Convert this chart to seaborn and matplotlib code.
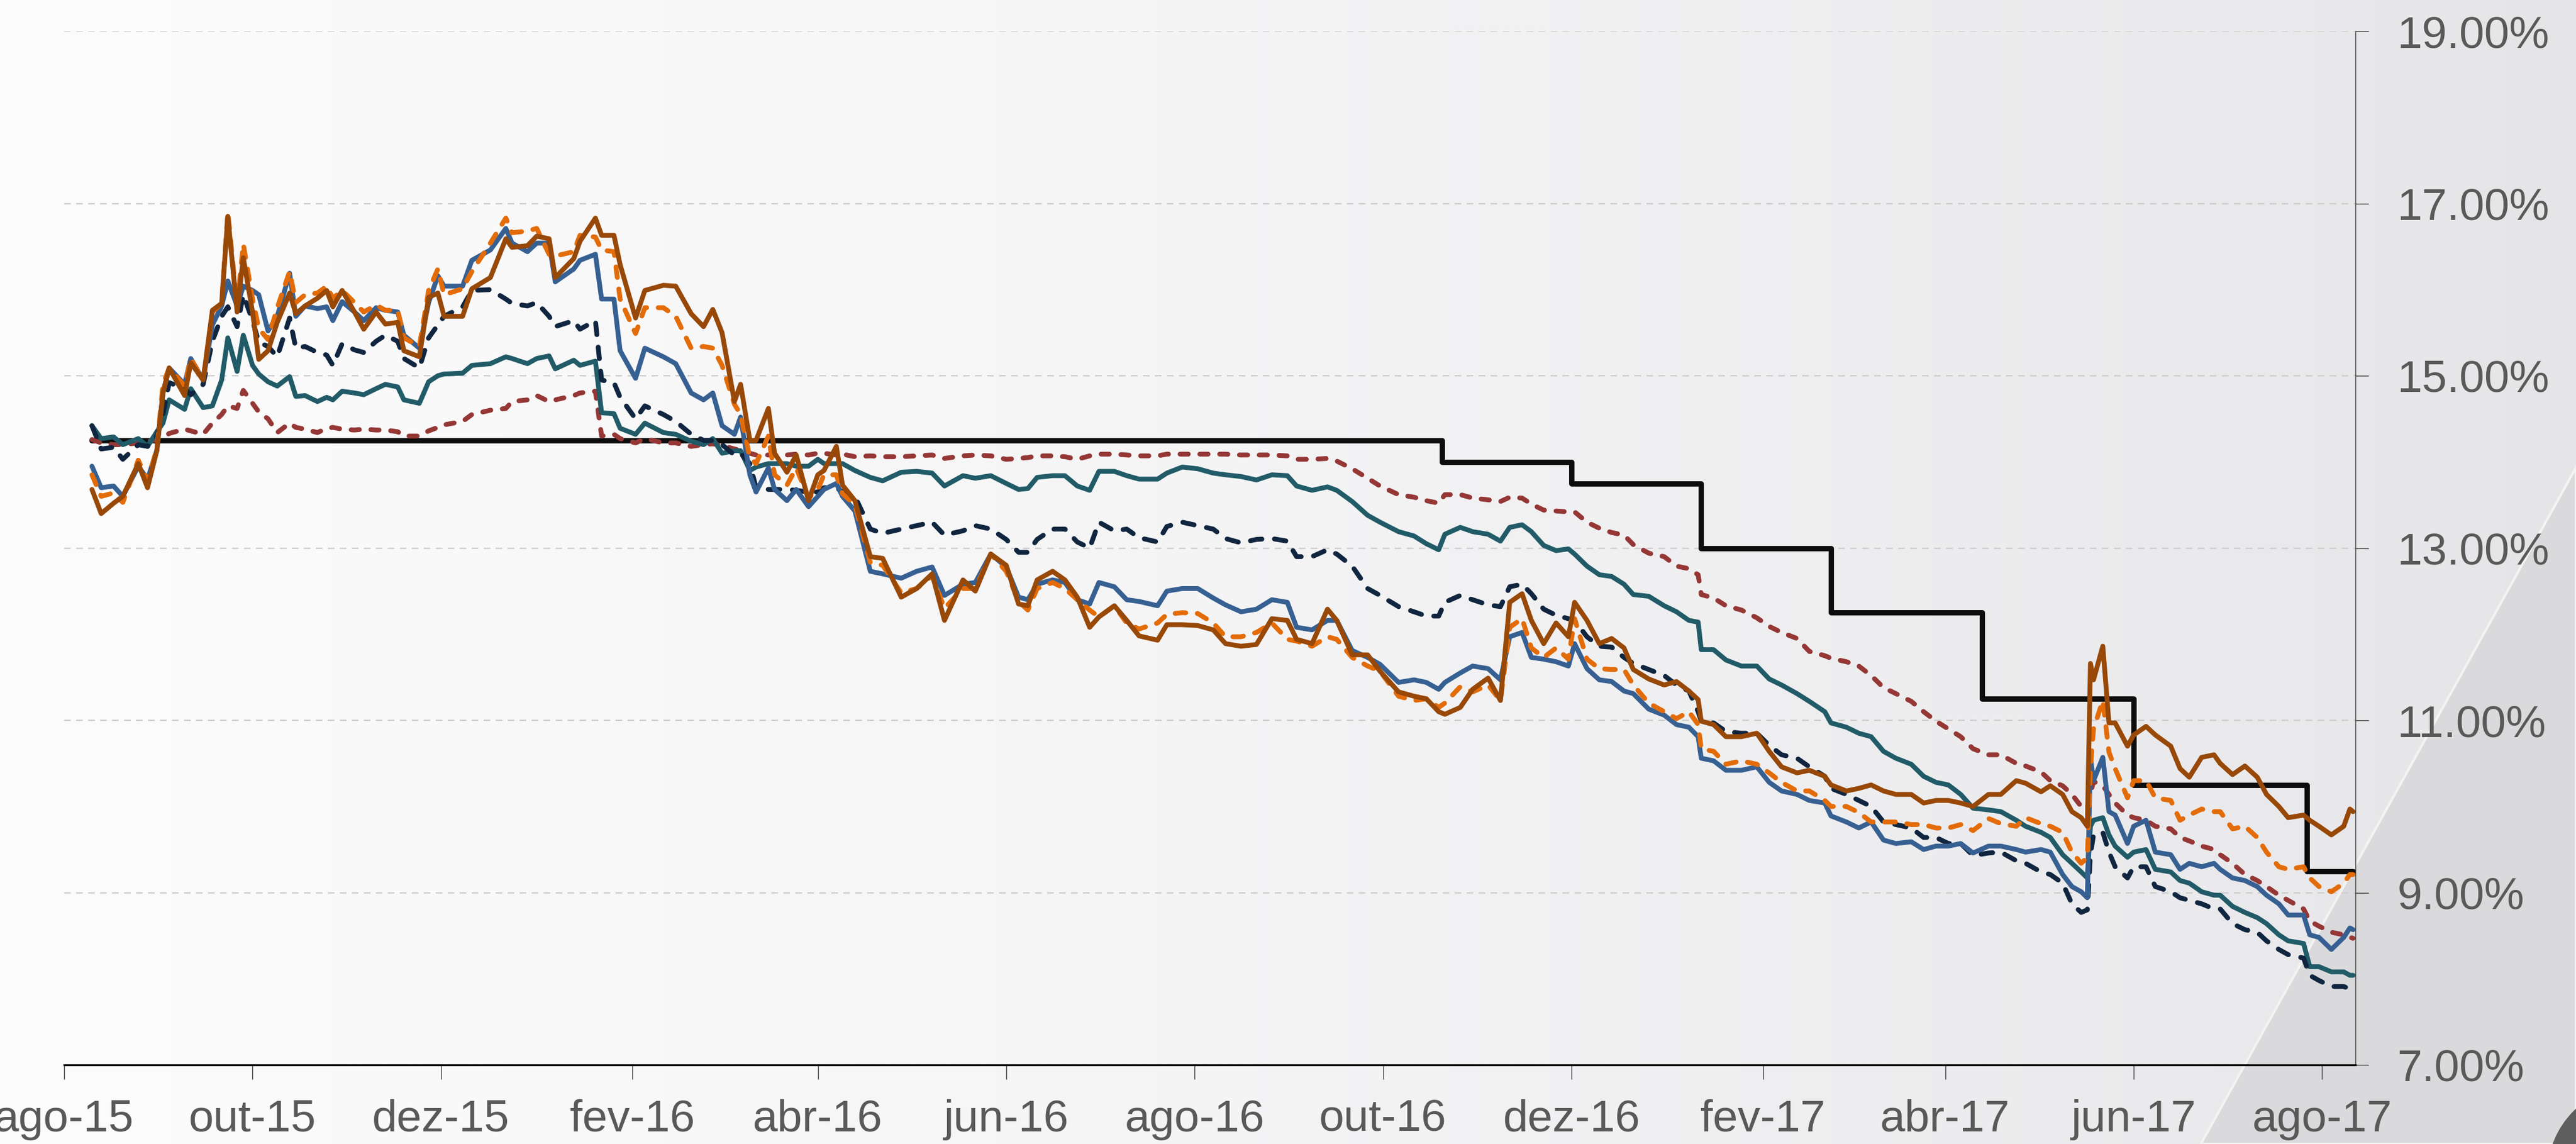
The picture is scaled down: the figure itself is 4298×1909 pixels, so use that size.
import numpy as np
import pandas as pd
import matplotlib
matplotlib.use("Agg")
import matplotlib.pyplot as plt
import matplotlib.dates as mdates
from matplotlib.ticker import FuncFormatter
from matplotlib.colors import LinearSegmentedColormap
from matplotlib.patches import Polygon, Circle
import seaborn as sns

# Datas das observações
datas = [
    # ago-dez 2015
    "2015-08-10", "2015-08-13", "2015-08-17", "2015-08-20", "2015-08-25", "2015-08-28", "2015-08-31",
    "2015-09-02", "2015-09-04", "2015-09-09", "2015-09-11", "2015-09-15", "2015-09-18", "2015-09-21",
    "2015-09-23", "2015-09-26", "2015-09-28", "2015-10-01", "2015-10-03", "2015-10-06", "2015-10-09",
    "2015-10-13", "2015-10-15", "2015-10-18", "2015-10-22", "2015-10-25", "2015-10-27", "2015-10-30",
    "2015-11-03", "2015-11-06", "2015-11-10", "2015-11-13", "2015-11-17", "2015-11-19", "2015-11-24",
    "2015-11-27", "2015-11-30", "2015-12-02", "2015-12-08",
    # dez 2015 - abr 2016
    "2015-12-11", "2015-12-17", "2015-12-22", "2015-12-24", "2015-12-29", "2016-01-01", "2016-01-05",
    "2016-01-07", "2016-01-13", "2016-01-15", "2016-01-20", "2016-01-22", "2016-01-26", "2016-01-28",
    "2016-02-02", "2016-02-05", "2016-02-11", "2016-02-15", "2016-02-20", "2016-02-24", "2016-02-27",
    "2016-03-01", "2016-03-05", "2016-03-07", "2016-03-10", "2016-03-12", "2016-03-16", "2016-03-18",
    "2016-03-22", "2016-03-25", "2016-03-29", "2016-04-01", "2016-04-03", "2016-04-07", "2016-04-09",
    "2016-04-13",
    # abr-jul 2016
    "2016-04-18", "2016-04-22", "2016-04-28", "2016-05-03", "2016-05-08", "2016-05-12", "2016-05-18",
    "2016-05-22", "2016-05-27", "2016-06-01", "2016-06-05", "2016-06-08", "2016-06-11", "2016-06-16",
    "2016-06-20", "2016-06-24", "2016-06-28", "2016-07-01", "2016-07-06", "2016-07-10", "2016-07-14",
    "2016-07-20", "2016-07-23", "2016-07-28",
    # ago-dez 2016
    "2016-08-02", "2016-08-07", "2016-08-11", "2016-08-16", "2016-08-21", "2016-08-26", "2016-08-31",
    "2016-09-03", "2016-09-08", "2016-09-13", "2016-09-16", "2016-09-21", "2016-09-26", "2016-09-30",
    "2016-10-06", "2016-10-11", "2016-10-15", "2016-10-19", "2016-10-21", "2016-10-26", "2016-10-30",
    "2016-11-04", "2016-11-08", "2016-11-11", "2016-11-15", "2016-11-18", "2016-11-22", "2016-11-26",
    "2016-11-30", "2016-12-02", "2016-12-06", "2016-12-10",
    # dez 2016 - abr 2017
    "2016-12-14", "2016-12-18", "2016-12-21", "2016-12-26", "2016-12-31", "2017-01-04", "2017-01-08",
    "2017-01-11", "2017-01-12", "2017-01-16", "2017-01-20", "2017-01-25", "2017-01-30", "2017-02-03",
    "2017-02-07", "2017-02-12", "2017-02-16", "2017-02-21", "2017-02-23", "2017-02-28", "2017-03-04",
    "2017-03-08", "2017-03-12", "2017-03-16", "2017-03-21", "2017-03-25", "2017-03-29", "2017-04-02",
    "2017-04-06", "2017-04-10", "2017-04-15",
    # abr-ago 2017
    "2017-04-19", "2017-04-24", "2017-04-27", "2017-05-02", "2017-05-05", "2017-05-09", "2017-05-12",
    "2017-05-15", "2017-05-17", "2017-05-18", "2017-05-19", "2017-05-22", "2017-05-24", "2017-05-26",
    "2017-05-30", "2017-06-01", "2017-06-05", "2017-06-08", "2017-06-13", "2017-06-16", "2017-06-19",
    "2017-06-23", "2017-06-27", "2017-06-29", "2017-07-03", "2017-07-07", "2017-07-11", "2017-07-14",
    "2017-07-18", "2017-07-21", "2017-07-26", "2017-07-28", "2017-07-31", "2017-08-04", "2017-08-08",
    "2017-08-10", "2017-08-11",
]

di_jan17 = [
    14.26, 14.22, 14.20, 14.20, 14.22, 14.24, 14.26, 14.28, 14.33, 14.38, 14.36, 14.32, 14.45, 14.55,
    14.65, 14.62, 14.83, 14.68, 14.58, 14.50, 14.34, 14.45, 14.40, 14.38, 14.34, 14.39, 14.40, 14.38,
    14.37, 14.38, 14.37, 14.37, 14.35, 14.30, 14.30, 14.36, 14.40, 14.43, 14.47,
    14.55, 14.60, 14.62, 14.70, 14.72, 14.77, 14.70, 14.72, 14.77, 14.80, 14.82, 14.30, 14.32, 14.27,
    14.22, 14.27, 14.22, 14.22, 14.18, 14.20, 14.21, 14.19, 14.15, 14.13, 14.10, 14.08, 14.08, 14.08,
    14.08, 14.09, 14.08, 14.10, 14.10, 14.08, 14.09, 14.06,
    14.07, 14.06, 14.06, 14.07, 14.08, 14.04, 14.07, 14.08, 14.07, 14.03, 14.04, 14.05, 14.07, 14.07,
    14.06, 14.03, 14.07, 14.09, 14.09, 14.08, 14.07, 14.07, 14.09, 14.09,
    14.09, 14.09, 14.09, 14.08, 14.08, 14.08, 14.07, 14.03, 14.03, 14.04, 14.01, 13.92, 13.81, 13.72,
    13.62, 13.59, 13.55, 13.52, 13.62, 13.62, 13.58, 13.56, 13.54, 13.59, 13.58, 13.51, 13.44, 13.43,
    13.42, 13.42, 13.30, 13.23,
    13.18, 13.15, 13.04, 12.94, 12.90, 12.79, 12.76, 12.69, 12.46, 12.42, 12.33, 12.28, 12.19, 12.09,
    12.02, 11.95, 11.80, 11.75, 11.72, 11.68, 11.63, 11.52, 11.38, 11.31, 11.22, 11.10, 10.99, 10.90,
    10.81, 10.67, 10.60,
    10.60, 10.50, 10.47, 10.40, 10.30, 10.24, 10.14, 10.00, 9.97, 10.15, 10.29, 10.24, 10.14, 10.04,
    9.90, 9.87, 9.84, 9.77, 9.74, 9.64, 9.60, 9.54, 9.50, 9.44, 9.34, 9.21, 9.14, 9.07,
    8.97, 8.91, 8.81, 8.67, 8.61, 8.54, 8.51, 8.48, 8.47,
]

di_jan18 = [
    14.42, 14.27, 14.29, 14.20, 14.27, 14.18, 14.35, 14.45, 14.72, 14.61, 14.85, 14.63, 14.65, 14.95,
    15.44, 15.05, 15.47, 15.12, 15.02, 14.93, 14.88, 14.99, 14.76, 14.77, 14.70, 14.75, 14.72, 14.82,
    14.80, 14.78, 14.85, 14.90, 14.87, 14.72, 14.68, 14.93, 15.00, 15.02, 15.03,
    15.12, 15.14, 15.22, 15.20, 15.14, 15.20, 15.23, 15.08, 15.18, 15.12, 15.17, 14.57, 14.56, 14.39,
    14.32, 14.45, 14.34, 14.32, 14.24, 14.20, 14.27, 14.10, 14.13, 14.13, 13.90, 13.94, 13.98, 13.98,
    13.98, 13.95, 13.95, 14.03, 13.98, 13.98, 13.98, 13.90,
    13.82, 13.78, 13.88, 13.89, 13.87, 13.72, 13.84, 13.81, 13.84, 13.75, 13.68, 13.69, 13.82, 13.84,
    13.84, 13.72, 13.67, 13.89, 13.89, 13.84, 13.80, 13.80, 13.87, 13.94,
    13.92, 13.87, 13.85, 13.83, 13.79, 13.85, 13.84, 13.72, 13.67, 13.71, 13.67, 13.54, 13.38, 13.30,
    13.19, 13.14, 13.05, 12.98, 13.16, 13.24, 13.19, 13.16, 13.08, 13.24, 13.27, 13.19, 13.03, 12.97,
    12.99, 12.93, 12.79, 12.69,
    12.67, 12.58, 12.46, 12.44, 12.33, 12.26, 12.16, 12.14, 11.82, 11.82, 11.70, 11.63, 11.63, 11.48,
    11.41, 11.31, 11.22, 11.10, 10.97, 10.92, 10.85, 10.81, 10.64, 10.56, 10.49, 10.35, 10.28, 10.25,
    10.14, 9.98, 9.96,
    9.94, 9.84, 9.77, 9.70, 9.64, 9.44, 9.34, 9.24, 9.17, 9.77, 9.84, 9.87, 9.67, 9.54,
    9.41, 9.47, 9.50, 9.27, 9.24, 9.14, 9.11, 9.01, 8.97, 8.97, 8.84, 8.77, 8.71, 8.64,
    8.51, 8.44, 8.41, 8.14, 8.14, 8.08, 8.08, 8.04, 8.04,
]

di_jan19 = [
    14.42, 14.15, 14.17, 14.03, 14.20, 14.18, 14.30, 14.55, 14.92, 14.85, 14.78, 14.90, 15.40, 15.69,
    15.80, 15.57, 15.94, 15.64, 15.39, 15.34, 15.22, 15.67, 15.32, 15.34, 15.27, 15.24, 15.12, 15.37,
    15.30, 15.27, 15.40, 15.47, 15.40, 15.20, 15.09, 15.44, 15.59, 15.69, 15.80,
    15.99, 16.00, 15.89, 15.84, 15.81, 15.85, 15.69, 15.57, 15.64, 15.54, 15.64, 14.95, 14.92, 14.75,
    14.50, 14.65, 14.55, 14.47, 14.32, 14.25, 14.25, 14.20, 14.08, 14.10, 13.98, 13.70, 13.68, 13.68,
    13.68, 13.67, 13.65, 13.65, 13.70, 13.70, 13.65, 13.60,
    13.22, 13.17, 13.22, 13.26, 13.30, 13.15, 13.20, 13.26, 13.22, 13.10, 12.95, 12.95, 13.10, 13.22,
    13.22, 13.07, 13.00, 13.30, 13.20, 13.22, 13.12, 13.07, 13.25, 13.30,
    13.26, 13.22, 13.11, 13.06, 13.10, 13.11, 13.08, 12.90, 12.90, 12.98, 12.93, 12.79, 12.53, 12.45,
    12.32, 12.26, 12.21, 12.21, 12.37, 12.45, 12.40, 12.34, 12.32, 12.55, 12.58, 12.47, 12.29, 12.22,
    12.18, 12.16, 11.97, 11.86,
    11.85, 11.73, 11.66, 11.59, 11.52, 11.41, 11.34, 11.10, 10.99, 10.97, 10.87, 10.85, 10.85, 10.71,
    10.60, 10.56, 10.46, 10.35, 10.21, 10.14, 10.07, 10.00, 9.82, 9.79, 9.75, 9.64, 9.64, 9.57,
    9.57, 9.43, 9.46,
    9.47, 9.37, 9.34, 9.24, 9.21, 9.11, 8.87, 8.77, 8.80, 9.44, 9.67, 9.70, 9.47, 9.30,
    9.17, 9.30, 9.30, 9.07, 9.01, 8.94, 8.91, 8.87, 8.81, 8.81, 8.64, 8.57, 8.54, 8.44,
    8.34, 8.28, 8.24, 8.04, 7.98, 7.91, 7.91, 7.88, 7.88,
]

di_jan21 = [
    13.95, 13.70, 13.72, 13.60, 13.95, 13.80, 14.13, 14.80, 15.09, 14.90, 15.20, 14.95, 15.59, 15.81,
    16.10, 15.81, 16.04, 15.99, 15.94, 15.52, 15.69, 16.19, 15.69, 15.81, 15.78, 15.80, 15.64, 15.86,
    15.74, 15.64, 15.79, 15.76, 15.74, 15.47, 15.32, 15.85, 16.16, 16.04, 16.04,
    16.34, 16.46, 16.71, 16.54, 16.44, 16.54, 16.54, 16.09, 16.24, 16.34, 16.41, 15.89, 15.89, 15.29,
    14.97, 15.32, 15.22, 15.14, 14.80, 14.72, 14.80, 14.42, 14.32, 14.52, 13.85, 13.65, 13.93, 13.68,
    13.55, 13.68, 13.48, 13.60, 13.68, 13.75, 13.60, 13.43,
    12.73, 12.70, 12.65, 12.73, 12.78, 12.45, 12.58, 12.60, 12.93, 12.78, 12.43, 12.40, 12.58, 12.63,
    12.60, 12.40, 12.35, 12.60, 12.55, 12.40, 12.38, 12.33, 12.50, 12.53,
    12.53, 12.42, 12.34, 12.26, 12.29, 12.40, 12.37, 12.08, 12.05, 12.16, 12.16, 11.81, 11.73, 11.65,
    11.44, 11.47, 11.44, 11.36, 11.44, 11.55, 11.63, 11.60, 11.47, 11.97, 12.02, 11.73, 11.71, 11.68,
    11.63, 11.89, 11.60, 11.47,
    11.45, 11.34, 11.31, 11.13, 11.06, 10.95, 10.92, 10.81, 10.56, 10.53, 10.42, 10.42, 10.46, 10.28,
    10.18, 10.14, 10.07, 10.04, 9.89, 9.82, 9.75, 9.82, 9.61, 9.57, 9.59, 9.50, 9.54, 9.54,
    9.57, 9.46, 9.54,
    9.54, 9.50, 9.47, 9.50, 9.47, 9.21, 9.07, 9.01, 8.94, 10.57, 10.30, 10.57, 9.94, 9.90,
    9.57, 9.77, 9.84, 9.47, 9.44, 9.27, 9.34, 9.30, 9.34, 9.27, 9.17, 9.14, 9.07, 8.97,
    8.87, 8.74, 8.74, 8.51, 8.48, 8.34, 8.48, 8.59, 8.57,
]

di_jan23 = [
    13.85, 13.60, 13.64, 13.53, 14.02, 13.78, 14.15, 14.90, 15.09, 14.88, 15.20, 14.95, 15.74, 15.84,
    16.90, 15.80, 16.53, 15.89, 15.55, 15.42, 15.79, 16.21, 15.85, 15.94, 15.96, 16.04, 15.90, 15.99,
    15.85, 15.74, 15.82, 15.76, 15.76, 15.44, 15.34, 15.99, 16.24, 15.94, 16.01,
    16.21, 16.54, 16.83, 16.66, 16.68, 16.71, 16.41, 16.39, 16.44, 16.63, 16.61, 16.46, 16.44, 15.89,
    15.49, 15.79, 15.79, 15.69, 15.32, 15.34, 15.32, 15.12, 14.67, 14.55, 14.05, 13.98, 14.30, 13.85,
    13.73, 13.93, 13.58, 13.68, 13.85, 13.85, 13.63, 13.50,
    12.83, 12.80, 12.48, 12.53, 12.68, 12.30, 12.53, 12.53, 12.93, 12.73, 12.38, 12.28, 12.53, 12.60,
    12.53, 12.40, 12.28, 12.20, 12.33, 12.13, 12.06, 12.13, 12.23, 12.25,
    12.24, 12.13, 11.97, 11.97, 12.02, 12.13, 11.94, 11.92, 11.86, 11.97, 11.94, 11.73, 11.63, 11.57,
    11.28, 11.23, 11.25, 11.15, 11.20, 11.39, 11.33, 11.41, 11.23, 12.08, 12.18, 11.84, 11.73, 11.84,
    11.71, 12.18, 11.71, 11.60,
    11.59, 11.59, 11.41, 11.20, 11.10, 11.02, 11.10, 10.95, 10.67, 10.64, 10.49, 10.53, 10.49, 10.39,
    10.28, 10.18, 10.18, 10.07, 10.00, 10.00, 9.93, 9.82, 9.82, 9.82, 9.79, 9.79, 9.75, 9.75,
    9.79, 9.72, 9.86,
    9.80, 9.77, 9.87, 9.80, 9.77, 9.70, 9.47, 9.34, 9.41, 10.44, 10.90, 11.23, 10.63, 10.44,
    10.10, 10.30, 10.30, 10.10, 10.07, 9.84, 9.90, 9.97, 9.94, 9.94, 9.74, 9.77, 9.64, 9.47,
    9.30, 9.27, 9.30, 9.17, 9.07, 9.01, 9.11, 9.21, 9.21,
]

di_jan25 = [
    13.68, 13.40, 13.52, 13.60, 13.98, 13.70, 14.13, 14.80, 15.09, 14.77, 15.15, 14.95, 15.76, 15.84,
    16.85, 15.74, 16.37, 15.74, 15.19, 15.29, 15.62, 15.96, 15.72, 15.81, 15.90, 15.99, 15.80, 15.99,
    15.74, 15.54, 15.74, 15.60, 15.62, 15.29, 15.22, 15.91, 15.96, 15.69, 15.69,
    16.01, 16.14, 16.59, 16.49, 16.51, 16.62, 16.59, 16.14, 16.36, 16.56, 16.83, 16.63, 16.63, 16.29,
    15.67, 15.99, 16.05, 16.04, 15.72, 15.57, 15.77, 15.50, 14.70, 14.90, 14.25, 14.25, 14.62, 14.10,
    13.88, 14.08, 13.55, 13.85, 13.90, 14.18, 13.73, 13.55,
    12.90, 12.88, 12.43, 12.53, 12.70, 12.16, 12.63, 12.50, 12.93, 12.80, 12.35, 12.33, 12.63, 12.73,
    12.63, 12.43, 12.08, 12.20, 12.33, 12.16, 11.98, 11.93, 12.11, 12.11,
    12.10, 12.05, 11.89, 11.86, 11.88, 12.18, 12.16, 11.94, 11.89, 12.29, 12.16, 11.76, 11.76, 11.57,
    11.33, 11.28, 11.25, 11.10, 11.07, 11.15, 11.36, 11.49, 11.23, 12.37, 12.47, 12.16, 11.89, 12.13,
    11.97, 12.37, 12.16, 11.89,
    11.95, 11.84, 11.59, 11.48, 11.41, 11.45, 11.34, 11.24, 10.99, 10.95, 10.81, 10.81, 10.85, 10.64,
    10.46, 10.39, 10.42, 10.35, 10.25, 10.18, 10.21, 10.25, 10.18, 10.14, 10.14, 10.04, 10.07, 10.07,
    10.04, 10.00, 10.14,
    10.14, 10.30, 10.27, 10.17, 10.24, 10.14, 9.94, 9.87, 9.77, 11.66, 11.47, 11.86, 10.97, 10.97,
    10.70, 10.83, 10.93, 10.83, 10.70, 10.44, 10.34, 10.57, 10.60, 10.50, 10.37, 10.47, 10.34, 10.14,
    10.00, 9.87, 9.90, 9.84, 9.77, 9.67, 9.77, 9.97, 9.94,
]

# Meta Selic (datas de mudança)
selic_datas = ["2015-08-10", "2016-10-20", "2016-12-01", "2017-01-12", "2017-02-23",
               "2017-04-13", "2017-06-01", "2017-07-27", "2017-08-11"]
selic = [14.25, 14.00, 13.75, 13.00, 12.25, 11.25, 10.25, 9.25, 9.25]

y_ticks = [7, 9, 11, 13, 15, 17, 19]
meses = ["jan", "fev", "mar", "abr", "mai", "jun", "jul", "ago", "set", "out", "nov", "dez"]

sns.set_theme(style="white")
plt.rcParams["font.family"] = ["Liberation Sans", "DejaVu Sans"]

W, H = 4298, 1909
fig = plt.figure(figsize=(W / 100, H / 100), dpi=100)

# fundo em degradê + faixa diagonal
bg = fig.add_axes([0, 0, 1, 1], zorder=-5)
cmap = LinearSegmentedColormap.from_list(
    "fundo", [(0, "#FCFCFC"), (0.45, "#F5F5F6"), (0.9, "#E9E9EB"), (1, "#E5E5E7")])
bg.imshow(np.linspace(0, 1, 512)[None, :], aspect="auto", cmap=cmap, extent=[0, W, H, 0])
bg.add_patch(Polygon([[3672, H], [W, 780], [W, H]], closed=True,
                     facecolor="#DADADC", edgecolor="#F3F3F3", lw=3))
bg.add_patch(Circle((4400, 1960), 150, facecolor="#5E5E5E", edgecolor="none"))
bg.set_xlim(0, W)
bg.set_ylim(H, 0)
bg.axis("off")

ax = fig.add_axes([107 / W, 1 - 1777 / H, (3930 - 107) / W, (1777 - 52) / H])
ax.set_facecolor("none")

datas_dt = pd.to_datetime(datas)

sns.lineplot(x=pd.to_datetime(selic_datas), y=selic, ax=ax, color="#0D0D0D", lw=6.4,
             drawstyle="steps-post", estimator=None, legend=False)

series = [
    (di_jan17, "#953735", (0, (1.7, 2.4))),
    (di_jan18, "#215B68", "-"),
    (di_jan19, "#10253F", (0, (2.4, 2.6))),
    (di_jan21, "#376092", "-"),
    (di_jan23, "#E36C09", (0, (2.2, 2.4))),
    (di_jan25, "#984807", "-"),
]
for valores, cor, estilo in series:
    sns.lineplot(x=datas_dt, y=valores, ax=ax, color=cor, lw=5.8, linestyle=estilo,
                 estimator=None, legend=False, solid_joinstyle="round",
                 dash_capstyle="round", dash_joinstyle="round")

ax.set_xlim(pd.Timestamp("2015-08-01"), pd.Timestamp("2017-08-11 19:00"))
ax.set_ylim(7, 19)
ax.set_yticks(y_ticks)
ax.yaxis.set_major_formatter(FuncFormatter(lambda v, p: f"{v:.2f}%"))
ax.yaxis.tick_right()
ax.xaxis.set_major_locator(mdates.MonthLocator(bymonth=[2, 4, 6, 8, 10, 12]))
ax.xaxis.set_major_formatter(FuncFormatter(
    lambda v, p: f"{meses[mdates.num2date(v).month - 1]}-{mdates.num2date(v):%y}"))

ax.tick_params(axis="x", bottom=True, direction="out", length=17, width=1,
               color="#3A3A3A", pad=24, labelsize=54, labelcolor="#595959")
ax.tick_params(axis="y", right=True, left=False, direction="out", length=16, width=1,
               color="#3A3A3A", pad=34, labelsize=54, labelcolor="#595959")

ax.set_axisbelow(True)
ax.yaxis.grid(True, color="#CDCDCD", lw=1.6, linestyle=(0, (5, 4)))
ax.xaxis.grid(False)

for s in ["top", "left"]:
    ax.spines[s].set_visible(False)
ax.spines["bottom"].set_color("#0D0D0D")
ax.spines["bottom"].set_linewidth(2.3)
ax.spines["right"].set_color("#404040")
ax.spines["right"].set_linewidth(1)
ax.set_xlabel("")
ax.set_ylabel("")

fig.savefig("out.png", dpi=100)
